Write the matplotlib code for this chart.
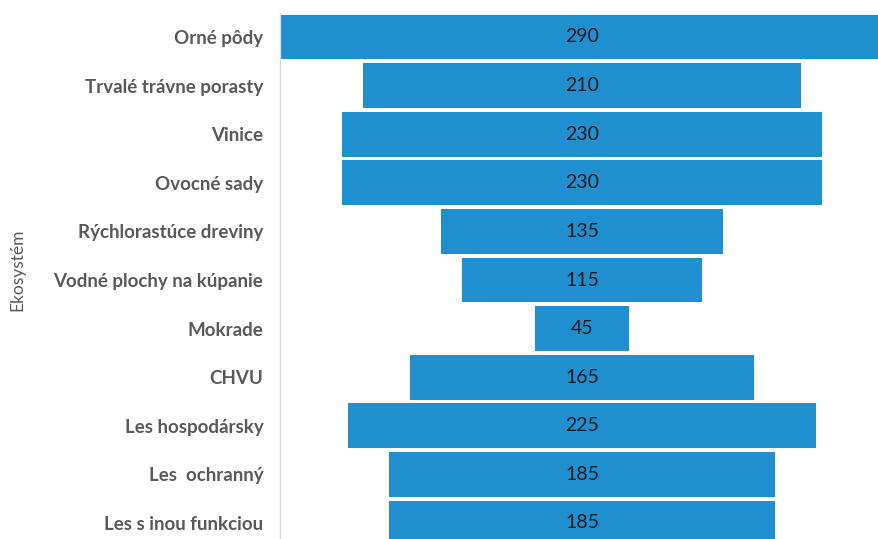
import matplotlib.pyplot as plt

categories = ['Orné pôdy', 'Trvalé trávne porasty', 'Vinice', 'Ovocné sady',
              'Rýchlorastúce dreviny', 'Vodné plochy na kúpanie', 'Mokrade',
              'CHVU', 'Les hospodársky', 'Les  ochranný', 'Les s inou funkciou']
values = [290, 210, 230, 230, 135, 115, 45, 165, 225, 185, 185]

plt.rcParams['font.family'] = ['Lato', 'DejaVu Sans']

fig = plt.figure(figsize=(8.79, 5.39), dpi=100)
W, H = 879, 539
# axes extends past the right and bottom edges, like the cropped original
top_px, row_px = 12.7, 48.6
ax_h = row_px * len(values)
ax = fig.add_axes([280 / W, 1 - (top_px + ax_h) / H, 604 / W, ax_h / H])

ypos = list(range(len(values)))
lefts = [-v / 2 for v in values]
ax.barh(ypos, values, left=lefts, height=0.92, color='#1f8fd0', edgecolor='none')

for y, v in zip(ypos, values):
    ax.text(0, y, str(v), ha='center', va='center', fontsize=14, color='#1a1a1a')

ax.set_xlim(-145, 145)
ax.set_ylim(len(values) - 0.5, -0.5)
ax.set_yticks(ypos)
ax.set_yticklabels(categories, fontsize=13.5, fontweight='bold', color='#595959')
ax.tick_params(axis='y', length=0, pad=12)
ax.set_xticks([])

for s in ['top', 'right', 'bottom']:
    ax.spines[s].set_visible(False)
ax.spines['left'].set_color('#d9d9d9')
ax.spines['left'].set_linewidth(1)

fig.text(17 / W, 1 - 270 / H, 'Ekosystém', rotation=90, ha='center', va='center',
         fontsize=12.5, color='#595959')

fig.savefig('out.png', dpi=100)
